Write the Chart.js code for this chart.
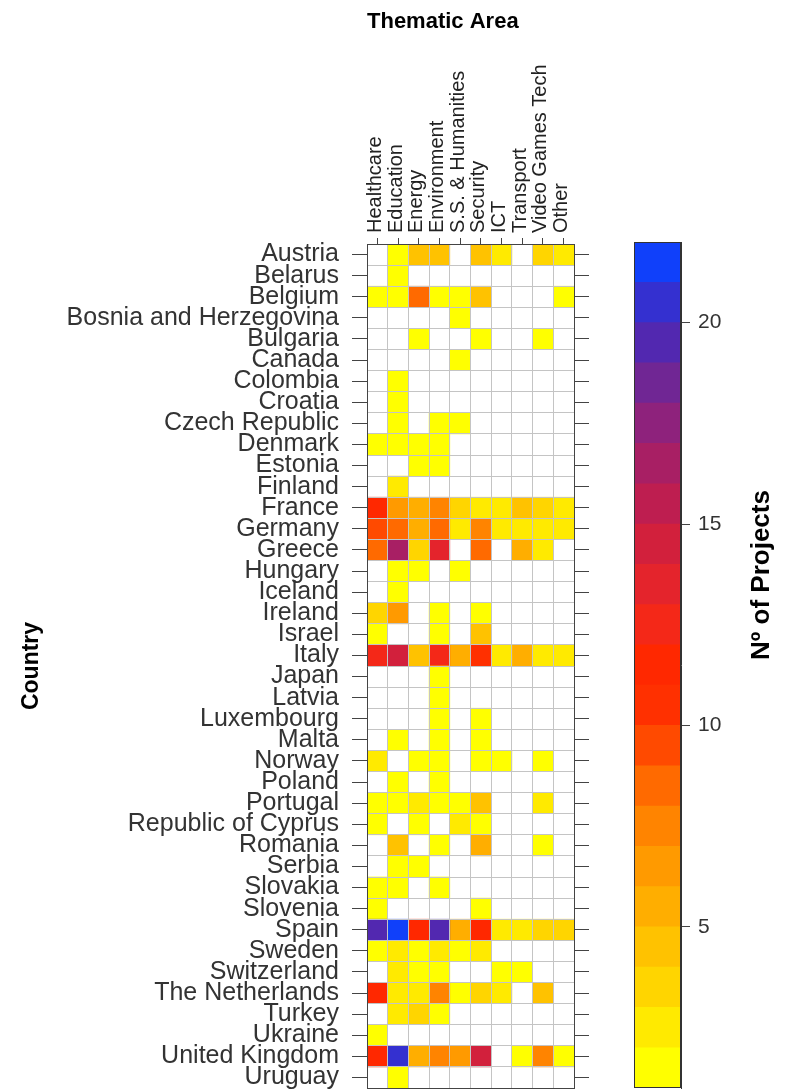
<!DOCTYPE html>
<html>
<head>
<meta charset="utf-8">
<script src="https://cdn.jsdelivr.net/npm/chart.js@4.4.1/dist/chart.umd.min.js"></script>
<style>
  body { margin: 0; background: #fff; }
  #heat { position: absolute; left: 0; top: 0; }
  #key { position: absolute; left: 610px; top: 0; }
</style>
</head>
<body>
<canvas id="heat" width="610" height="1091"></canvas>
<canvas id="key" width="193" height="1091"></canvas>
<script>
const themes = ['Healthcare', 'Education', 'Energy', 'Environment', 'S.S. & Humanities',
    'Security', 'ICT', 'Transport', 'Video Games Tech', 'Other'];

const countries = ['Austria', 'Belarus', 'Belgium', 'Bosnia and Herzegovina', 'Bulgaria', 'Canada',
    'Colombia', 'Croatia', 'Czech Republic', 'Denmark', 'Estonia', 'Finland', 'France', 'Germany',
    'Greece', 'Hungary', 'Iceland', 'Ireland', 'Israel', 'Italy', 'Japan', 'Latvia', 'Luxembourg',
    'Malta', 'Norway', 'Poland', 'Portugal', 'Republic of Cyprus', 'Romania', 'Serbia', 'Slovakia',
    'Slovenia', 'Spain', 'Sweden', 'Switzerland', 'The Netherlands', 'Turkey', 'Ukraine',
    'United Kingdom', 'Uruguay'];

// projects per country, one array per thematic area (same order as countries)
const healthcare  = [0,0,1,0,0,0,0,0,0,1, 0,0,11,9,8,0,0,3,1,12, 0,0,0,0,2,0,1,1,0,0, 1,1,19,1,0,11,0,1,11,0];
const education   = [1,1,1,0,0,0,1,1,1,1, 0,2,6,8,16,1,1,6,0,14, 0,0,0,1,0,1,1,0,4,1, 1,0,22,2,2,2,2,0,20,1];
const energy      = [4,0,8,0,1,0,0,0,0,1, 1,0,5,5,3,1,0,0,0,4, 0,0,0,0,1,0,2,1,0,1, 0,0,11,1,1,2,3,0,5,0];
const environment = [4,0,1,0,0,0,0,0,1,1, 1,0,7,8,13,0,0,1,1,12, 1,1,1,1,1,1,1,0,1,0, 1,0,19,2,1,7,1,0,7,0];
const ssHumanities= [0,0,1,1,0,1,0,0,1,0, 0,0,3,2,0,1,0,0,0,5, 0,0,0,0,0,0,1,2,0,0, 0,0,5,1,0,1,0,0,6,0];
const security    = [4,0,4,0,1,0,0,0,0,0, 0,0,2,7,8,0,0,1,4,10, 0,0,1,1,1,0,4,1,5,0, 0,1,11,2,0,3,0,0,14,0];
const ict         = [2,0,0,0,0,0,0,0,0,0, 0,0,2,2,0,0,0,0,0,2, 0,0,0,0,1,0,0,0,0,0, 0,0,2,0,1,2,0,0,0,0];
const transport   = [0,0,0,0,0,0,0,0,0,0, 0,0,4,2,5,0,0,0,0,5, 0,0,0,0,0,0,0,0,0,0, 0,0,2,0,1,0,0,0,1,0];
const videoGames  = [3,0,0,0,1,0,0,0,0,0, 0,0,3,2,2,0,0,0,0,2, 0,0,0,0,1,0,2,0,1,0, 0,0,3,0,0,4,0,0,7,0];
const other       = [2,0,1,0,0,0,0,0,0,0, 0,0,2,2,0,0,0,0,0,2, 0,0,0,0,0,0,0,0,0,0, 0,0,3,0,0,0,0,0,1,0];

const keyMin = 1;
const keyMax = 22;
const keyTicks = [5, 10, 15, 20];

const columns = [healthcare, education, energy, environment, ssHumanities,
    security, ict, transport, videoGames, other];

// one colour per unit band, from 1 up to 22
const palette = ['#FFFF00','#FFEA00','#FFD500','#FFC200','#FFAE00','#FF9A00','#FF8400',
    '#FF6A00','#FF4A00','#FF3000','#FF2800','#F42818','#E4242C','#D2203C','#BE1E50',
    '#A81F64','#8E227C','#702694','#5228B0','#3430D0','#1040FA'];

const colourFor = v => palette[Math.min(Math.max(v, keyMin), palette.length) - 1];

const font = 'Liberation Sans';
const frameColor = '#444';
const cellLine = '#c4c4c4';

// labels must not push the plot area in
const noPad = s => { s.paddingTop = 0; s.paddingBottom = 0; s.paddingLeft = 0; s.paddingRight = 0; };

const heatSets = columns.map((vals, j) => ({
    label: themes[j],
    data: vals.map(v => v > 0 ? [j, j + 1] : null),
    backgroundColor: vals.map(v => v > 0 ? colourFor(v) : 'rgba(0,0,0,0)'),
    borderWidth: 0,
    grouped: false,
    barPercentage: 1,
    categoryPercentage: 1,
    xAxisID: 'x',
    yAxisID: 'y'
}));

new Chart(document.getElementById('heat'), {
    type: 'bar',
    data: { labels: countries, datasets: heatSets },
    options: {
        indexAxis: 'y',
        responsive: false,
        animation: false,
        devicePixelRatio: 1,
        layout: { padding: { left: 14, top: 5, right: 21, bottom: 3 } },
        plugins: { legend: { display: false }, tooltip: { enabled: false } },
        scales: {
            x: {
                type: 'linear', position: 'bottom', min: 0, max: themes.length,
                ticks: { display: false, stepSize: 1 },
                grid: { color: cellLine, drawTicks: false, z: 1 },
                border: { color: frameColor, z: 2 },
                afterFit: noPad
            },
            x2: {
                type: 'category', position: 'top', labels: themes, offset: true,
                grid: { offset: false, drawOnChartArea: false, tickLength: 6, color: frameColor },
                ticks: { autoSkip: false, minRotation: 90, maxRotation: 90, padding: 5, labelOffset: 22,
                    color: '#222', font: { family: font, size: 20 } },
                border: { color: frameColor, z: 2 },
                title: { display: true, text: 'Thematic Area', align: 'start', color: '#000',
                    padding: { top: 4, bottom: 0 }, font: { family: font, size: 22, weight: 'bold' } },
                afterFit: s => { noPad(s); s.height = 239; }
            },
            y: {
                type: 'category', position: 'left', offset: true,
                grid: { offset: false, drawOnChartArea: false, tickLength: 15, color: frameColor },
                ticks: { autoSkip: false, padding: 13, color: '#333', font: { family: font, size: 25 } },
                border: { color: frameColor, z: 2 },
                title: { display: true, text: 'Country', color: '#000', padding: { top: 4, bottom: 0 },
                    font: { family: font, size: 23, weight: 'bold' } },
                afterFit: s => { noPad(s); s.width = 353; }
            },
            yg: {
                type: 'category', position: 'left', labels: countries, offset: true,
                grid: { offset: true, drawTicks: false, color: cellLine, z: 1 },
                ticks: { display: false },
                border: { display: false },
                afterFit: noPad
            },
            yR: {
                type: 'category', position: 'right', labels: countries, offset: true,
                grid: { offset: false, drawOnChartArea: false, tickLength: 15, color: frameColor },
                ticks: { display: false },
                border: { color: frameColor, z: 2 },
                afterFit: noPad
            }
        }
    }
});

const keySets = palette.map((c, i) => ({
    data: [[keyMin + i, keyMin + i + 1]],
    backgroundColor: c,
    borderWidth: 0,
    grouped: false,
    barPercentage: 1,
    categoryPercentage: 1
}));

const keyFrame = {
    id: 'keyFrame',
    afterDraw(chart) {
        const { ctx, chartArea: a } = chart;
        ctx.save();
        ctx.strokeStyle = '#333';
        ctx.lineWidth = 1;
        ctx.strokeRect(Math.round(a.left) + 0.5, Math.round(a.top) + 0.5,
            Math.round(a.right - a.left) - 1, Math.round(a.bottom - a.top) - 1);
        const s = chart.scales.y;
        ctx.translate(s.right - 41, (a.top + a.bottom) / 2 - 90);
        ctx.rotate(-Math.PI / 2);
        ctx.fillStyle = '#000';
        ctx.font = 'bold 26px "' + font + '"';
        ctx.textAlign = 'center';
        ctx.textBaseline = 'middle';
        ctx.fillText('Nº of Projects', 0, 0);
        ctx.restore();
    }
};

new Chart(document.getElementById('key'), {
    type: 'bar',
    data: { labels: ['key'], datasets: keySets },
    plugins: [keyFrame],
    options: {
        responsive: false,
        animation: false,
        devicePixelRatio: 1,
        layout: { padding: { left: 24, top: 242, right: 0, bottom: 3 } },
        plugins: { legend: { display: false }, tooltip: { enabled: false } },
        scales: {
            x: { display: false, offset: true },
            y: {
                type: 'linear', position: 'right', min: keyMin, max: keyMax,
                afterBuildTicks: s => { s.ticks = keyTicks.map(v => ({ value: v })); },
                grid: { drawOnChartArea: false, tickLength: 9, color: '#444' },
                ticks: { padding: 8, color: '#333', font: { family: font, size: 21 } },
                border: { color: '#333', z: 2 },
                afterFit: s => { noPad(s); s.width = 122; }
            }
        }
    }
});
</script>
</body>
</html>
